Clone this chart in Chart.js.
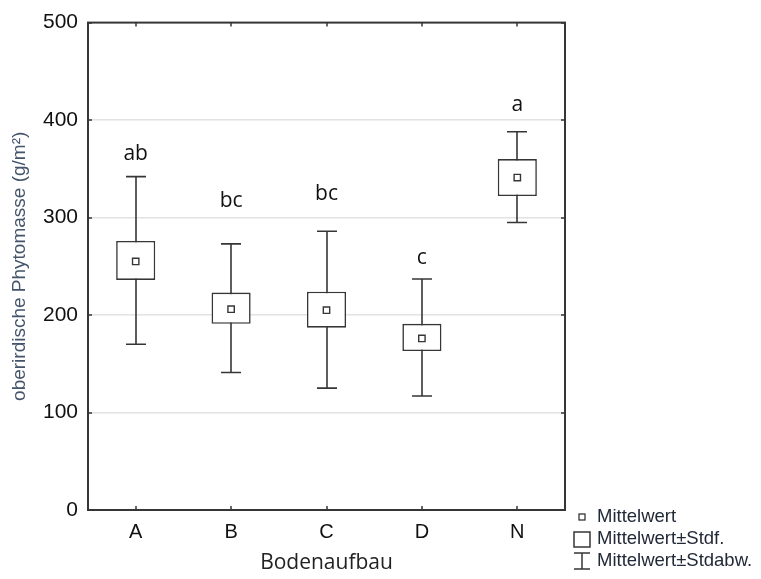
<!DOCTYPE html>
<html>
<head>
<meta charset="utf-8">
<script src="https://cdn.jsdelivr.net/npm/chart.js@4.4.0/dist/chart.umd.min.js"></script>
<style>
  html, body { margin: 0; padding: 0; background: #fff; }
</style>
</head>
<body>
<canvas id="chart" width="761" height="579"></canvas>
<script>
// values
const categories = ["A", "B", "C", "D", "N"];
const means = [255, 206, 205, 176, 341];
const seLow = [236, 191, 187, 163, 322];   // Mittelwert - Stdf.
const seHigh = [276, 223, 224, 191, 360];  // Mittelwert + Stdf.
const sdLow = [170, 141, 125, 117, 295];   // Mittelwert - Stdabw.
const sdHigh = [342, 273, 286, 237, 388];  // Mittelwert + Stdabw.
const groupLetters = ["ab", "bc", "bc", "c", "a"];
const letterAt = [359, 311, 318, 252, 409]; // baseline of the letters, in g/m²
const yTicks = [0, 100, 200, 300, 400, 500];

const INK = "#363636";

const extras = {
  id: "extras",
  beforeDatasetsDraw(chart) {
    const { ctx, scales: { x, y } } = chart;
    ctx.save();
    ctx.strokeStyle = INK;
    ctx.lineWidth = 1.6;
    categories.forEach((c, i) => {
      const px = Math.round(x.getPixelForValue(i));
      const top = y.getPixelForValue(sdHigh[i]);
      const bot = y.getPixelForValue(sdLow[i]);
      ctx.beginPath();
      ctx.moveTo(px, top); ctx.lineTo(px, bot);
      ctx.moveTo(px - 10, top); ctx.lineTo(px + 10, top);
      ctx.moveTo(px - 10, bot); ctx.lineTo(px + 10, bot);
      ctx.stroke();
    });
    ctx.restore();
  },
  afterDraw(chart) {
    const { ctx, chartArea: a, scales: { x, y } } = chart;
    ctx.save();
    // frame + small inner ticks
    ctx.strokeStyle = INK;
    ctx.lineWidth = 2;
    ctx.strokeRect(a.left, a.top, a.right - a.left, a.bottom - a.top);
    ctx.lineWidth = 1.5;
    ctx.beginPath();
    categories.forEach((c, i) => {
      const px = Math.round(x.getPixelForValue(i));
      ctx.moveTo(px, a.bottom); ctx.lineTo(px, a.bottom - 4);
      ctx.moveTo(px, a.top); ctx.lineTo(px, a.top + 4);
    });
    yTicks.forEach(v => {
      const py = Math.round(y.getPixelForValue(v));
      ctx.moveTo(a.left, py); ctx.lineTo(a.left + 4, py);
      ctx.moveTo(a.right, py); ctx.lineTo(a.right - 4, py);
    });
    ctx.stroke();

    // group letters
    ctx.fillStyle = "#111";
    ctx.font = "21px 'Open Sans'";
    ctx.textAlign = "center";
    ctx.textBaseline = "alphabetic";
    groupLetters.forEach((t, i) => {
      ctx.fillText(t, x.getPixelForValue(i), y.getPixelForValue(letterAt[i]));
    });

    // legend
    const gx = 582;
    ctx.strokeStyle = INK;
    ctx.lineWidth = 1.3;
    ctx.strokeRect(gx - 3, 514, 6, 6);
    ctx.lineWidth = 1.5;
    ctx.strokeRect(gx - 8, 532, 16, 15);
    ctx.beginPath();
    ctx.moveTo(gx, 553); ctx.lineTo(gx, 569);
    ctx.moveTo(gx - 8, 553); ctx.lineTo(gx + 8, 553);
    ctx.moveTo(gx - 8, 569); ctx.lineTo(gx + 8, 569);
    ctx.stroke();
    ctx.fillStyle = "#222a38";
    ctx.font = "18.5px 'Liberation Sans', Arial";
    ctx.textAlign = "left";
    ctx.textBaseline = "middle";
    ctx.fillText("Mittelwert", 597, 517);
    ctx.fillText("Mittelwert\u00B1Stdf.", 597, 539);
    ctx.fillText("Mittelwert\u00B1Stdabw.", 597, 561);
    ctx.restore();
  }
};

new Chart(document.getElementById("chart"), {
  type: "bar",
  data: {
    labels: categories,
    datasets: [
      {
        type: "line",
        label: "Mittelwert",
        data: means,
        showLine: false,
        pointStyle: "rect",
        pointRadius: 4.5,
        pointBorderWidth: 1.4,
        pointBackgroundColor: "#fff",
        pointBorderColor: INK,
        order: 0,
      },
      {
        label: "Mittelwert±Stdf.",
        data: categories.map((c, i) => [seLow[i], seHigh[i]]),
        backgroundColor: "#fff",
        borderColor: INK,
        borderWidth: 1.6,
        borderSkipped: false,
        categoryPercentage: 1,
        barPercentage: 0.41,
        order: 1,
      },
    ],
  },
  options: {
    responsive: false,
    animation: false,
    layout: { padding: { left: 0, top: 19, right: 196, bottom: 0 } },
    plugins: {
      legend: { display: false },
      tooltip: { enabled: false },
    },
    scales: {
      x: {
        offset: true,
        grid: { display: false, drawTicks: false },
        border: { display: false },
        ticks: {
          padding: 10,
          color: "#111",
          font: { family: "'Liberation Sans', Arial", size: 20 },
        },
        title: {
          display: true,
          text: "Bodenaufbau",
          color: "#222",
          font: { family: "'Open Sans'", size: 21 },
          padding: { top: 0, bottom: 3 },
        },
        afterFit(s) { s.height = 69; },
      },
      y: {
        min: 0,
        max: 500,
        afterBuildTicks(s) { s.ticks = yTicks.map(v => ({ value: v })); },
        grid: {
          drawTicks: false,
          lineWidth: 1.5,
          color: c => (c.tick && (c.tick.value === 0 || c.tick.value === 500)) ? "rgba(0,0,0,0)" : "#e2e2e2",
        },
        border: { display: false },
        ticks: {
          padding: 10,
          color: "#111",
          font: { family: "'Liberation Sans', Arial", size: 21 },
        },
        title: {
          display: true,
          text: "oberirdische Phytomasse (g/m²)",
          color: "#44546a",
          font: { family: "'Liberation Sans', Arial", size: 19 },
          padding: { top: 8, bottom: 0 },
        },
        afterFit(s) { s.width = 88; },
      },
    },
  },
  plugins: [extras],
});
</script>
</body>
</html>
